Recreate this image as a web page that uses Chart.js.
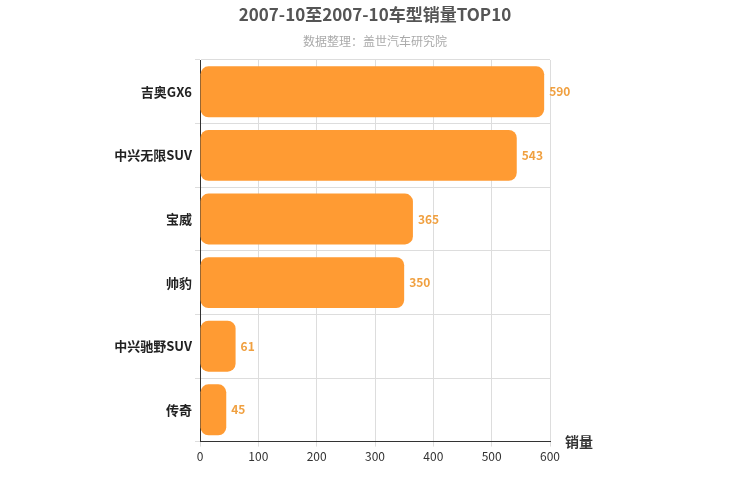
<!DOCTYPE html>
<html><head><meta charset="utf-8">
<script src="https://cdn.jsdelivr.net/npm/chart.js@4/dist/chart.umd.min.js"></script>
<style>body{margin:0;background:#fff}#w{width:750px;height:500px}</style>
</head><body><div id="w"><canvas id="c"></canvas></div>
<script>
const categories = ["吉奥GX6","中兴无限SUV","宝威","帅豹","中兴驰野SUV","传奇"];
const sales = [590,543,365,350,61,45];
const xTicks = [0,100,200,300,400,500,600];
const F = "'Noto Sans CJK SC', sans-serif";
const labelPlugin = {
  id:'lbl',
  afterDatasetsDraw(chart){
    const ctx=chart.ctx; const meta=chart.getDatasetMeta(0);
    ctx.save(); ctx.font="bold 12px "+F; ctx.fillStyle="#f0a040"; ctx.textBaseline="middle";
    meta.data.forEach((b,i)=>ctx.fillText(sales[i], b.x+5, b.y));
    const a=chart.chartArea;
    ctx.font="bold 14px "+F; ctx.fillStyle="#333"; ctx.textBaseline="middle";
    ctx.fillText("销量", a.right+15, a.bottom);
    ctx.textAlign="center";
    ctx.font="bold 17px "+F; ctx.fillStyle="#555";
    ctx.fillText("2007-10至2007-10车型销量TOP10", chart.width/2, 15);
    ctx.font="12px "+F; ctx.fillStyle="#aaa";
    ctx.fillText("数据整理：盖世汽车研究院", chart.width/2, 41);
    ctx.restore();
  }
};
new Chart(document.getElementById('c'),{
  type:'bar',
  data:{labels:categories,datasets:[{data:sales,backgroundColor:'#ff9b33',borderRadius:8,borderSkipped:false,barPercentage:0.8,categoryPercentage:1}]},
  options:{
    indexAxis:'y',responsive:true,maintainAspectRatio:false,animation:false,
    layout:{padding:{left:0,right:200,top:60,bottom:33}},
    plugins:{legend:{display:false},tooltip:{enabled:false},title:{display:false},subtitle:{display:false}},
    scales:{
      x:{min:0,max:600,ticks:{stepSize:100,color:'#333',font:{family:F,size:12}},grid:{color:'#ddd',tickLength:5},border:{color:'#333'}},
      y:{ticks:{color:'#222',font:{family:F,size:13,weight:'bold'}},grid:{color:'#ddd',offset:true,tickLength:5},border:{color:'#333'},
        afterFit(s){s.width=200;}}
    }
  },
  plugins:[labelPlugin]
});
</script></body></html>
